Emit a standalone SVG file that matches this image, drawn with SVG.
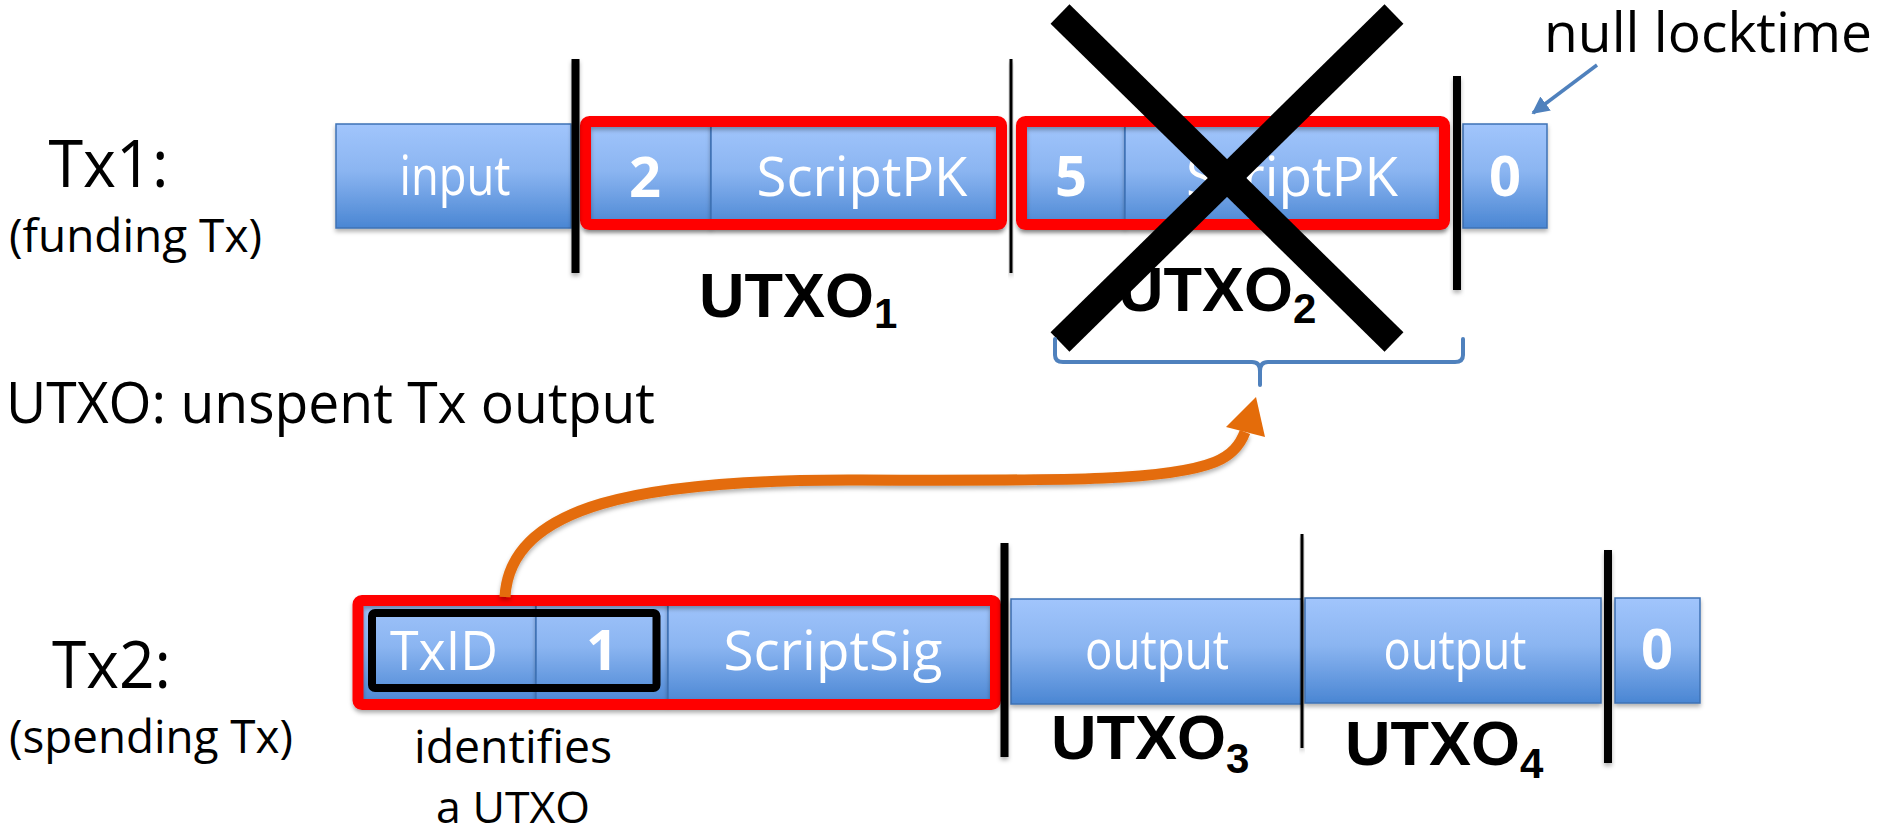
<svg xmlns="http://www.w3.org/2000/svg" width="1885" height="833" viewBox="0 0 1885 833">
<style>
  .cell { stroke:#3f72b5; stroke-width:1.5; fill:url(#blueGrad); filter:url(#shadow); }
  .ct { font-family:"Open Sans","Noto Sans",sans-serif; font-size:54px; fill:#ffffff; text-anchor:middle; }
  .num { font-family:"Open Sans","Noto Sans",sans-serif; font-size:56px; font-weight:bold; fill:#ffffff; text-anchor:middle; }
  .lbl { font-family:"Open Sans","Noto Sans",sans-serif; fill:#000000; }
  .utxo { font-family:"Liberation Sans",Arial,sans-serif; font-weight:bold; font-size:63px; fill:#000000; }
  .sub { font-size:42px; }
  .redbox { fill:none; stroke:#ff0000; stroke-width:11; filter:url(#shadow); }
  .sep { fill:#000000; filter:url(#shadow); }
</style>
<defs>
  <linearGradient id="blueGrad" x1="0" y1="0" x2="0" y2="1">
    <stop offset="0" stop-color="#a1c5fc"/>
    <stop offset="0.45" stop-color="#8bb5f1"/>
    <stop offset="1" stop-color="#4a86d3"/>
  </linearGradient>
  <filter id="shadow" x="-50%" y="-10%" width="200%" height="130%">
    <feDropShadow dx="0" dy="3" stdDeviation="2" flood-color="#000" flood-opacity="0.3"/>
  </filter>
  <marker id="blueHead" viewBox="0 0 10 10" refX="9" refY="5" markerWidth="5" markerHeight="5" orient="auto" markerUnits="strokeWidth">
    <path d="M0,0 L10,5 L0,10 z" fill="#4f81bd"/>
  </marker>
</defs>
<rect width="1885" height="833" fill="#ffffff"/>

<!-- Left labels -->
<g id="tx1-label">
  <text class="lbl" x="108.5" y="187" font-size="66" text-anchor="middle" textLength="120" lengthAdjust="spacingAndGlyphs">Tx1:</text>
  <text class="lbl" x="135.5" y="252" font-size="45" text-anchor="middle" textLength="253" lengthAdjust="spacingAndGlyphs">(funding Tx)</text>
</g>
<g id="utxo-legend">
  <text class="lbl" x="6" y="423" font-size="56" textLength="649" lengthAdjust="spacingAndGlyphs">UTXO: unspent Tx output</text>
</g>
<g id="tx2-label">
  <text class="lbl" x="111.5" y="688" font-size="65" text-anchor="middle" textLength="119" lengthAdjust="spacingAndGlyphs">Tx2:</text>
  <text class="lbl" x="151" y="753" font-size="45" text-anchor="middle" textLength="284" lengthAdjust="spacingAndGlyphs">(spending Tx)</text>
</g>

<!-- Tx1 row -->
<g id="tx1-input">
  <rect class="cell" x="336" y="124" width="235" height="104"/>
  <text class="ct" x="455" y="195" textLength="111" lengthAdjust="spacingAndGlyphs">input</text>
</g>
<g id="tx1-utxo1">
  <rect class="cell" x="585" y="124" width="126" height="104"/>
  <rect class="cell" x="711" y="124" width="291" height="104"/>
  <text class="num" x="645" y="197">2</text>
  <text class="ct" x="862" y="196" textLength="211" lengthAdjust="spacingAndGlyphs">ScriptPK</text>
  <rect class="redbox" x="585.5" y="121.5" width="416" height="103" rx="4"/>
  <text class="utxo" x="699" y="317">UTXO<tspan class="sub" dy="11">1</tspan></text>
</g>
<g id="tx1-utxo2">
  <rect class="cell" x="1021" y="124" width="104" height="104"/>
  <rect class="cell" x="1125" y="124" width="320" height="104"/>
  <text class="num" x="1071" y="196">5</text>
  <text class="ct" x="1292" y="196" textLength="212" lengthAdjust="spacingAndGlyphs">ScriptPK</text>
  <rect class="redbox" x="1021.5" y="121.5" width="423" height="103" rx="4"/>
  <text class="utxo" x="1118" y="311">UTXO<tspan class="sub" dy="12">2</tspan></text>
</g>
<g id="tx1-locktime">
  <rect class="cell" x="1463" y="124" width="84" height="104"/>
  <text class="num" x="1505" y="196">0</text>
</g>
<g id="tx1-separators">
  <rect class="sep" x="571.5" y="59" width="8" height="214"/>
  <rect class="sep" x="1009.5" y="59" width="3" height="214"/>
  <rect class="sep" x="1453" y="76" width="8" height="214"/>
</g>
<g id="spent-cross">
  <line x1="1060" y1="14" x2="1394" y2="342" stroke="#000" stroke-width="27"/>
  <line x1="1394" y1="14" x2="1060" y2="342" stroke="#000" stroke-width="27"/>
</g>
<g id="null-locktime-label">
  <text class="lbl" x="1708" y="52" font-size="54" text-anchor="middle" textLength="328" lengthAdjust="spacingAndGlyphs">null locktime</text>
</g>

<!-- Tx2 row -->
<g id="tx2-input">
  <rect class="cell" x="358" y="599" width="178" height="105"/>
  <rect class="cell" x="536" y="599" width="132" height="105"/>
  <rect class="cell" x="668" y="599" width="328" height="105"/>
  <text class="ct" x="444" y="670" textLength="108" lengthAdjust="spacingAndGlyphs">TxID</text>
  <text class="num" x="602" y="670">1</text>
  <text class="ct" x="833" y="670" textLength="219" lengthAdjust="spacingAndGlyphs">ScriptSig</text>
  <rect x="372" y="613" width="284.5" height="75" rx="3" fill="none" stroke="#000" stroke-width="8"/>
  <rect class="redbox" x="358" y="600.5" width="637.5" height="104" rx="4"/>
  <text class="lbl" x="513" y="763" font-size="45" text-anchor="middle" textLength="198" lengthAdjust="spacingAndGlyphs">identifies</text>
  <text class="lbl" x="513" y="823" font-size="44" text-anchor="middle" textLength="154" lengthAdjust="spacingAndGlyphs">a UTXO</text>
</g>
<g id="tx2-utxo3">
  <rect class="cell" x="1011" y="599" width="291" height="105"/>
  <text class="ct" x="1157" y="669" textLength="144" lengthAdjust="spacingAndGlyphs">output</text>
  <text class="utxo" x="1051" y="759">UTXO<tspan class="sub" dy="14">3</tspan></text>
</g>
<g id="tx2-utxo4">
  <rect class="cell" x="1305" y="598" width="296" height="105"/>
  <text class="ct" x="1455" y="669" textLength="143" lengthAdjust="spacingAndGlyphs">output</text>
  <text class="utxo" x="1345" y="765">UTXO<tspan class="sub" dy="13">4</tspan></text>
</g>
<g id="tx2-locktime">
  <rect class="cell" x="1615" y="598" width="85" height="105"/>
  <text class="num" x="1657" y="669">0</text>
</g>
<g id="tx2-separators">
  <rect class="sep" x="1000.5" y="543" width="8" height="214"/>
  <rect class="sep" x="1300.5" y="534" width="3" height="214"/>
  <rect class="sep" x="1604" y="550" width="8" height="213"/>
</g>

<!-- Connectors -->
<g id="connectors">
  <path d="M1055,339 V355 Q1055,362 1063,362 H1252 Q1260,362 1260,371 V385 M1260,371 Q1260,362 1268,362 H1455 Q1463,362 1463,355 V339" fill="none" stroke="#4f81bd" stroke-width="4" stroke-linecap="round" stroke-linejoin="round"/>
  <line x1="1597" y1="65" x2="1533" y2="113" stroke="#4f81bd" stroke-width="3.5" marker-end="url(#blueHead)"/>
  <path d="M505,597 C510,505 640,479 860,480 C1080,481 1170,480 1215,462 C1232,455 1240,445 1245,432" fill="none" stroke="#e46c0a" stroke-width="11" filter="url(#shadow)"/>
  <polygon points="1256,397 1226,427 1265,437" fill="#e46c0a"/>
</g>
</svg>
